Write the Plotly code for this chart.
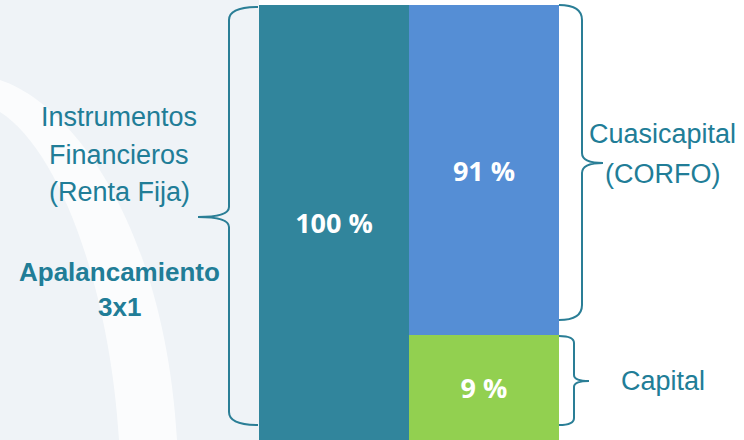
import plotly.graph_objects as go

# ---- data ----
categories = ["Instrumentos Financieros", "Estructura"]
total_values = [100]          # left bar: Instrumentos Financieros (Renta Fija)
capital_values = [9]          # right bar, bottom: Capital
cuasicapital_values = [91]    # right bar, top: Cuasicapital (CORFO)

left_labels = ["Instrumentos", "Financieros", "(Renta Fija)"]
lever_labels = ["Apalancamiento", "3x1"]
cuasi_labels = ["Cuasicapital", "(CORFO)"]
capital_label = "Capital"

# ---- style ----
W, H = 744, 440
TEAL = "#31859C"
BLUE = "#558ED5"
GREEN = "#92D050"
TXT = "#217D97"
BRACE = "#2A7E96"
LABFONT = "Liberation Sans, Arial, sans-serif"
BARFONT = "Open Sans, DejaVu Sans, sans-serif"


def px(x):
    return x / W


def py(y):
    return (H - y) / H


def path(points_cmds):
    out = []
    for cmd, *pts in points_cmds:
        coords = " ".join(f"{px(x):.5f},{py(y):.5f}" for x, y in pts)
        out.append(f"{cmd} {coords}")
    return " ".join(out)


fig = go.Figure()
for xs, vals, col in ((categories[0], total_values, TEAL),
                      (categories[1], capital_values, GREEN),
                      (categories[1], cuasicapital_values, BLUE)):
    fig.add_trace(go.Bar(
        x=[xs], y=vals, marker=dict(color=col, line=dict(width=0)),
        text=[f"{v} %" for v in vals], textposition="inside",
        insidetextanchor="middle", textangle=0,
        textfont=dict(family=BARFONT, size=27, color="white", weight="bold"),
        showlegend=False, hoverinfo="skip"))

shapes = []
# light background panel on the left with a faint white arc
shapes.append(dict(type="rect", xref="paper", yref="paper", x0=0, x1=px(259), y0=0, y1=1,
                   fillcolor="#EFF3F7", line=dict(width=0), layer="below"))
arc = path([("M", (0, 80)), ("C", (75, 105), (165, 230), (177, 440)),
            ("L", (119, 440)), ("C", (110, 290), (60, 150), (0, 112)), ("Z",)])
shapes.append(dict(type="path", xref="paper", yref="paper", path=arc,
                   fillcolor="rgba(255,255,255,0.75)", line=dict(width=0), layer="below"))

# braces
left_brace = path([("M", (258, 7)), ("Q", (229, 7), (229, 20)), ("L", (229, 207)),
                   ("Q", (229, 217), (198, 217)), ("Q", (229, 217), (229, 227)),
                   ("L", (229, 412)), ("Q", (229, 425), (258, 425))])
cuasi_brace = path([("M", (559, 5)), ("Q", (582, 5), (582, 20)), ("L", (582, 153)),
                    ("Q", (582, 163), (603, 163)), ("Q", (582, 163), (582, 173)),
                    ("L", (582, 305)), ("Q", (582, 320), (559, 320))])
cap_brace = path([("M", (559, 336)), ("Q", (574, 336), (574, 343)), ("L", (574, 375)),
                  ("Q", (574, 381), (589, 381)), ("Q", (574, 381), (574, 387)),
                  ("L", (574, 418)), ("Q", (574, 425), (559, 425))])
for p in (left_brace, cuasi_brace, cap_brace):
    shapes.append(dict(type="path", xref="paper", yref="paper", path=p,
                       line=dict(color=BRACE, width=2)))

annotations = []


def label(text, x, y, bold=False, size=27):
    annotations.append(dict(
        text=text, x=px(x), y=py(y), xref="paper", yref="paper",
        xanchor="center", yanchor="middle", showarrow=False,
        font=dict(family=LABFONT, size=size, color=TXT, weight="bold" if bold else "normal")))


for t, yc in zip(left_labels, [117, 155, 192]):
    label(t, 119, yc)
for t, yc in zip(lever_labels, [272, 307]):
    label(t, 119, yc, bold=True, size=26)
for t, yc in zip(cuasi_labels, [134, 174]):
    label(t, 662, yc)
label(capital_label, 663, 381)

fig.update_layout(
    width=W, height=H,
    margin=dict(l=0, r=0, t=0, b=0),
    paper_bgcolor="white", plot_bgcolor="rgba(0,0,0,0)",
    barmode="stack", bargap=0,
    xaxis=dict(domain=[px(259), px(559)], visible=False, type="category",
               categoryorder="array", categoryarray=categories, fixedrange=True),
    # non-proportional (log) scale, as in the original slide
    yaxis=dict(domain=[0, py(5)], type="log", range=[0.6222, 2], visible=False, fixedrange=True),
    shapes=shapes, annotations=annotations, showlegend=False,
)

fig.write_html("out.html", config={"displayModeBar": False},
               post_script="document.body.style.margin='0px';")
